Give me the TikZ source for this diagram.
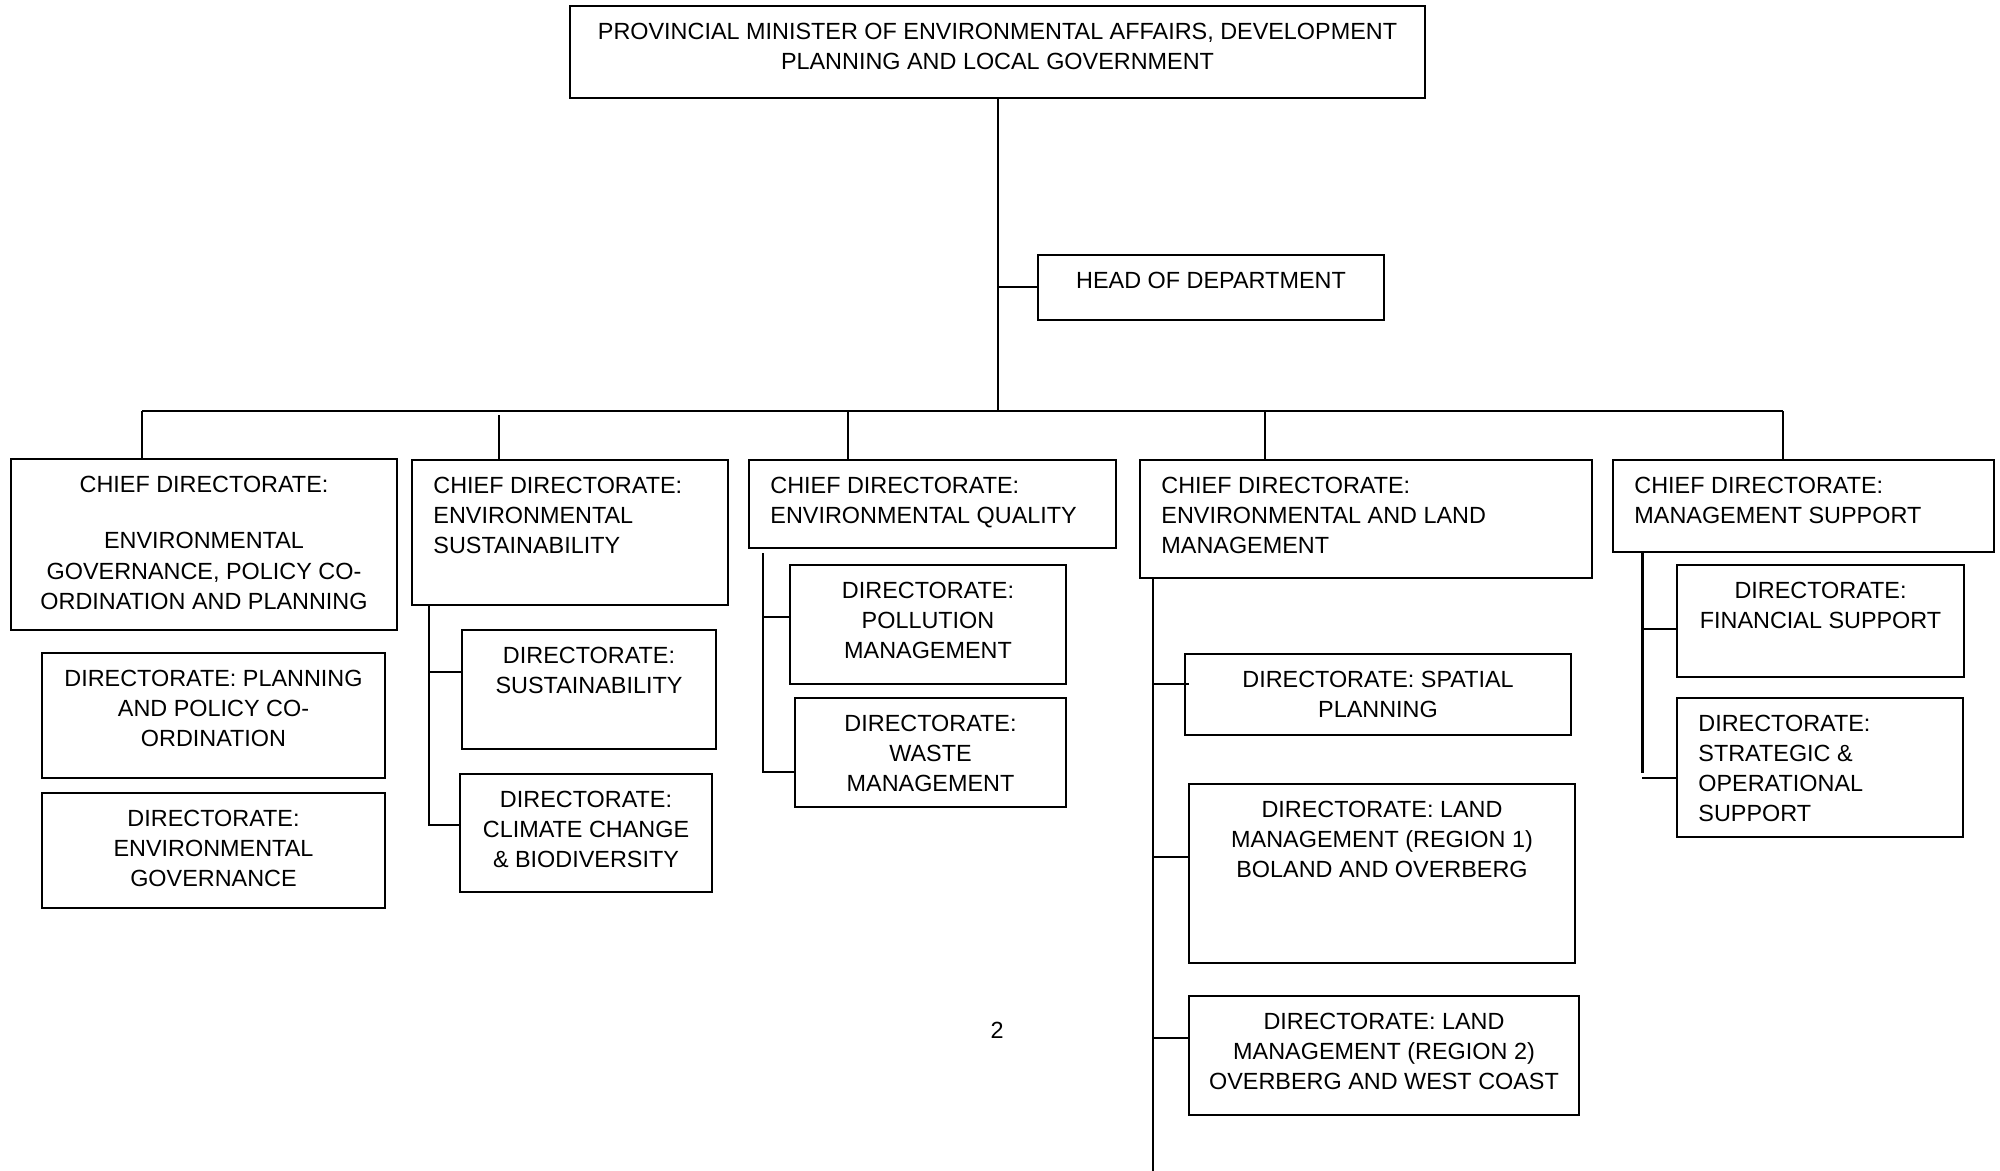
\documentclass[tikz,border=0pt]{standalone}
\usepackage{fontspec}
\setmainfont{Liberation Sans}
\usetikzlibrary{fit,calc}
\tikzset{
  box/.style={draw=black,line width=0.7pt,inner sep=0pt,outer sep=0pt},
  lbl/.style={inner sep=0pt,font=\fontsize{11.7}{15.1}\selectfont},
  conn/.style={draw=black,line width=1pt},
  thickconn/.style={draw=black,line width=1.5pt}
}
\newcommand\cbox[6]{%
  \node[box,fit={(#2,#3)(#4,#5)}] (#1) {};
  \node[lbl,anchor=north,align=center] (#1t) at ($(#1.north)+(0,16.5)$) {#6};}
\newcommand\lbox[6]{%
  \node[box,fit={(#2,#3)(#4,#5)}] (#1) {};
  \node[lbl,anchor=north west,align=left] (#1t) at ($(#1.north west)+(21,16.5)$) {#6};}
\begin{document}
\begin{tikzpicture}[x=0.5pt,y=-0.5pt]
\useasboundingbox (0,0) rectangle (2000,1171);
% boxes
\cbox{top}{570}{6}{1425}{98}{PROVINCIAL MINISTER OF ENVIRONMENTAL AFFAIRS, DEVELOPMENT\\PLANNING AND LOCAL GOVERNMENT}
\cbox{hod}{1038}{255}{1384}{320}{HEAD OF DEPARTMENT}
\cbox{cd1}{11}{459}{397}{630}{CHIEF DIRECTORATE:\\[13.2pt]ENVIRONMENTAL\\GOVERNANCE, POLICY CO-\\ORDINATION AND PLANNING}
\lbox{cd2}{412}{460}{728}{605}{CHIEF DIRECTORATE:\\ENVIRONMENTAL\\SUSTAINABILITY}
\lbox{cd3}{749}{460}{1116}{548}{CHIEF DIRECTORATE:\\ENVIRONMENTAL QUALITY}
\lbox{cd4}{1140}{460}{1592}{578}{CHIEF DIRECTORATE:\\ENVIRONMENTAL AND LAND\\MANAGEMENT}
\lbox{cd5}{1613}{460}{1994}{552}{CHIEF DIRECTORATE:\\MANAGEMENT SUPPORT}
\cbox{d1a}{42}{653}{385}{778}{DIRECTORATE: PLANNING\\AND POLICY CO-\\ORDINATION}
\cbox{d1b}{42}{793}{385}{908}{DIRECTORATE:\\ENVIRONMENTAL\\GOVERNANCE}
\cbox{d2a}{462}{630}{716}{749}{DIRECTORATE:\\SUSTAINABILITY}
\cbox{d2b}{460}{774}{712}{892}{DIRECTORATE:\\CLIMATE CHANGE\\\& BIODIVERSITY}
\cbox{d3a}{790}{565}{1066}{684}{DIRECTORATE:\\POLLUTION\\MANAGEMENT}
\cbox{d3b}{795}{698}{1066}{807}{DIRECTORATE:\\WASTE\\MANAGEMENT}
\cbox{d4a}{1185}{654}{1571}{735}{DIRECTORATE: SPATIAL\\PLANNING}
\cbox{d4b}{1189}{784}{1575}{963}{DIRECTORATE: LAND\\MANAGEMENT (REGION 1)\\BOLAND AND OVERBERG}
\cbox{d4c}{1189}{996}{1579}{1115}{DIRECTORATE: LAND\\MANAGEMENT (REGION 2)\\OVERBERG AND WEST COAST}
\cbox{d5a}{1677}{565}{1964}{677}{DIRECTORATE:\\FINANCIAL SUPPORT}
\lbox{d5b}{1677}{698}{1963}{837}{DIRECTORATE:\\STRATEGIC \&\\OPERATIONAL\\SUPPORT}
\node[lbl] (pg) at (997,1030) {2};
% main trunk
\coordinate (bus) at (997,411);
\draw[conn] (top.south) -- (top.south |- bus);
\draw[conn] (top.south |- hod.west) -- (hod.west);
\coordinate (b1) at (142,411);
\coordinate (b2) at (499,411);
\coordinate (b3) at (848,411);
\coordinate (b4) at (1265,411);
\coordinate (b5) at (1783,411);
\draw[conn] (b1) -- (b5);
\draw[conn] (b1) -- (b1 |- cd1.north);
\draw[conn] ([yshift=-2pt]b2) -- (b2 |- cd2.north);
\draw[conn] (b3) -- (b3 |- cd3.north);
\draw[conn] (b4) -- (b4 |- cd4.north);
\draw[conn] (b5) -- (b5 |- cd5.north);
% CD2 spine
\coordinate (s2) at (429,605);
\coordinate (t2a) at (429,672);
\coordinate (t2b) at (429,825);
\draw[conn] (s2) -- (t2b) -- (t2b -| d2b.west);
\draw[conn] (t2a) -- (t2a -| d2a.west);
% CD3 spine
\coordinate (s3) at (763,553);
\coordinate (t3a) at (763,617);
\coordinate (t3b) at (763,772);
\draw[conn] (s3) -- (t3b) -- (t3b -| d3b.west);
\draw[conn] (t3a) -- (t3a -| d3a.west);
% CD4 spine
\coordinate (s4) at (1153,578);
\coordinate (e4) at (1153,1171);
\coordinate (t4a) at (1153,684);
\coordinate (t4b) at (1153,857);
\coordinate (t4c) at (1153,1038);
\draw[conn] (s4) -- (e4);
\draw[conn] (t4a) -- ([xshift=2pt]t4a -| d4a.west);
\draw[conn] (t4b) -- (t4b -| d4b.west);
\draw[conn] (t4c) -- (t4c -| d4c.west);
% CD5 spine
\coordinate (s5) at (1642,552);
\coordinate (e5) at (1642,773);
\coordinate (t5a) at (1642,629);
\coordinate (t5b) at (1642,778);
\draw[thickconn] (s5) -- (e5);
\draw[conn] (t5a) -- (t5a -| d5a.west);
\draw[conn] (t5b) -- (t5b -| d5b.west);
\end{tikzpicture}
\end{document}
